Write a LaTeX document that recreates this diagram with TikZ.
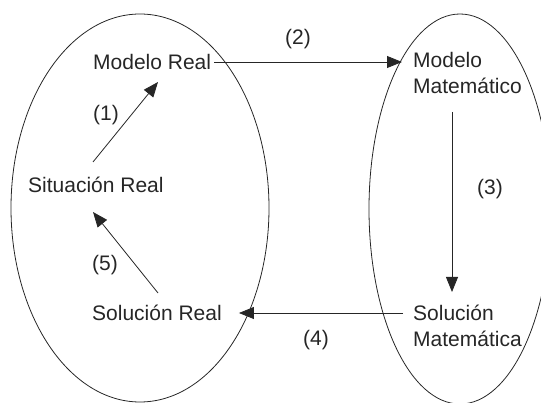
\documentclass[tikz,border=0pt]{standalone}
\usepackage{fontspec}
\setmainfont{Liberation Sans}
\usetikzlibrary{arrows.meta}
\begin{document}
\begin{tikzpicture}[x=1pt,y=-1pt,
  lbl/.style={inner sep=0pt,text=black!85,font=\fontsize{21}{26}\selectfont,text height=15pt,text depth=0pt},
  mlbl/.style={inner sep=0pt,text=black!85,font=\fontsize{21}{26}\selectfont,align=left,anchor=north west},
  arr/.style={draw=black!85,line width=0.8pt,-{Triangle[length=15pt,width=12pt]}},
  oval/.style={draw=black!85,line width=0.8pt}]
\useasboundingbox (0,0) rectangle (541,403);
\clip (0,0) rectangle (541,403);
\draw[oval] (140,208) ellipse [x radius=129, y radius=194];
\draw[oval] (460,209) ellipse [x radius=91, y radius=195];
\node[lbl,anchor=west] (mr) at (93,62) {Modelo Real};
\node[lbl,anchor=west] (sr) at (28,185) {Situación Real};
\node[lbl,anchor=west] (sor) at (92,313) {Solución Real};
\node[mlbl] (mm) at (413,52.5) {Modelo\\Matemático};
\node[mlbl] (sm) at (413,305) {Solución\\Matemática};
\node[lbl] (l1) at (106,113) {(1)};
\node[lbl] (l2) at (298,37) {(2)};
\node[lbl] (l3) at (490,187) {(3)};
\node[lbl] (l4) at (316,338) {(4)};
\node[lbl] (l5) at (105,263) {(5)};
\coordinate (a1s) at (93,162);
\coordinate (a1e) at (158,82);
\coordinate (a5s) at (158,293);
\coordinate (a5e) at (93,212);
\coordinate (a3s) at (452,112);
\coordinate (a3e) at (452,292);
\draw[arr] (a1s) -- (a1e);
\draw[arr] (a5s) -- (a5e);
\draw[arr] ([xshift=3pt]mr.east) -- ([xshift=-11pt,yshift=0pt]mm.west |- mr.east);
\draw[arr] (a3s) -- (a3e);
\draw[arr] ([xshift=-10pt]sm.west |- sor.east) -- ([xshift=17pt]sor.east);
\end{tikzpicture}
\end{document}
